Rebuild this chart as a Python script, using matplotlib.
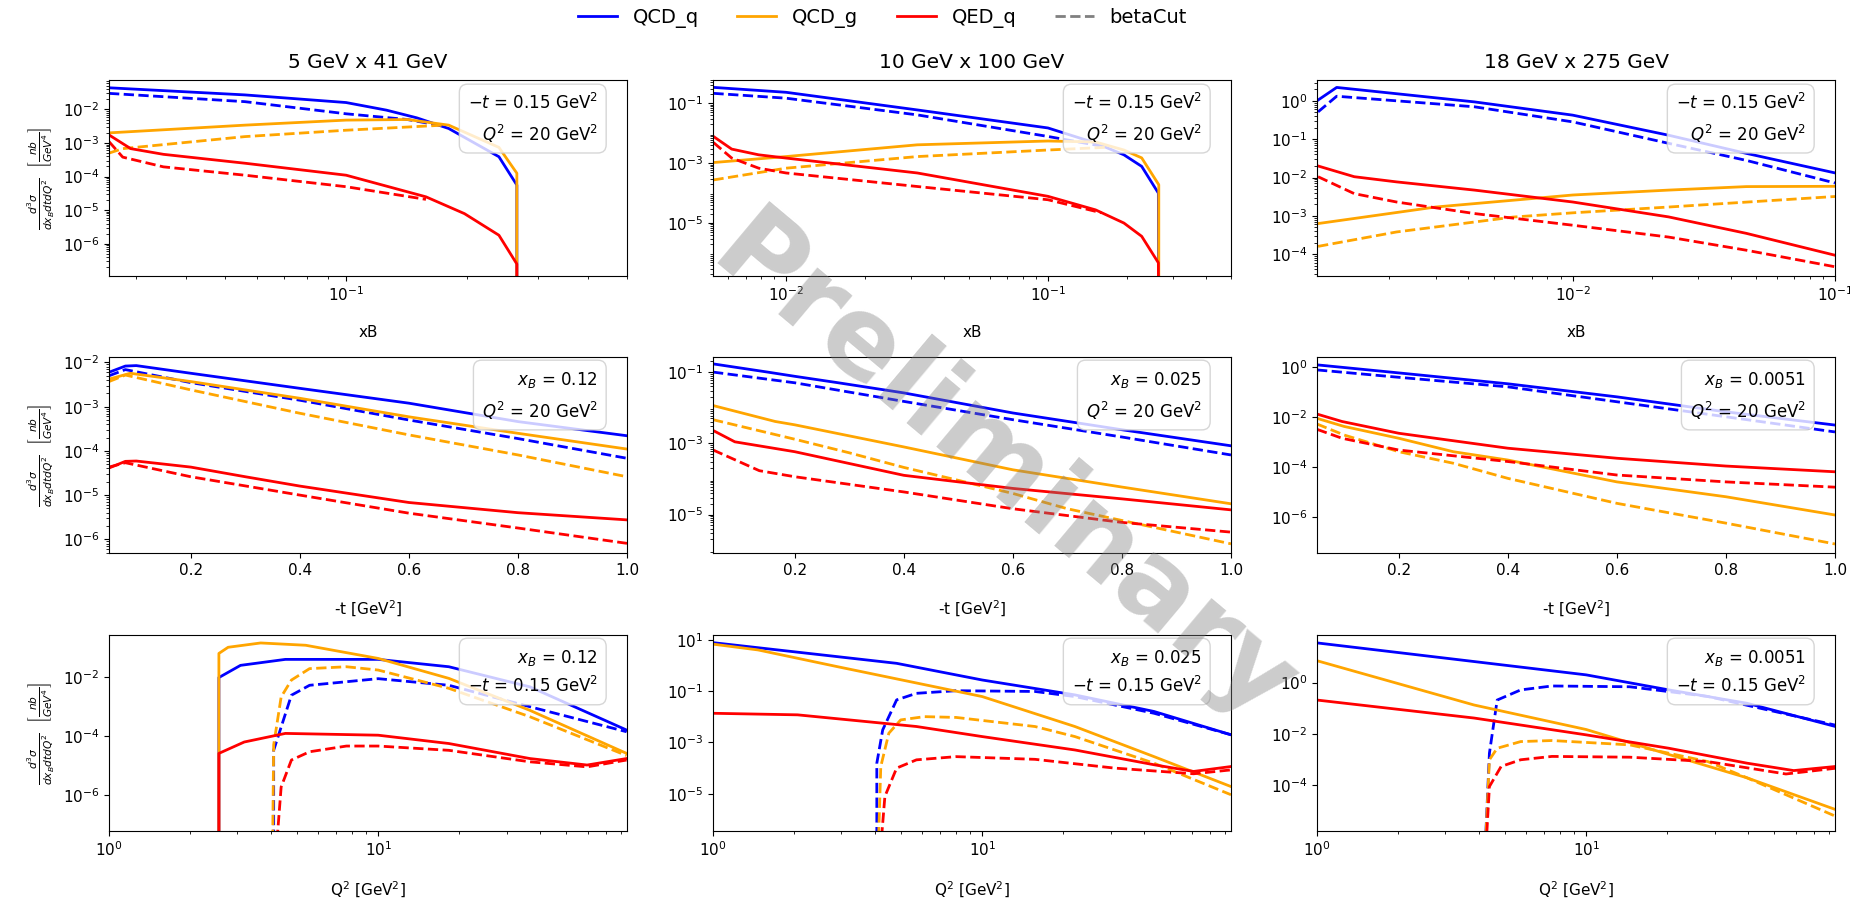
import matplotlib
matplotlib.use("Agg")
import matplotlib.pyplot as plt
from matplotlib.lines import Line2D

# beam configurations (columns)
beams = ["5 GeV x 41 GeV", "10 GeV x 100 GeV", "18 GeV x 275 GeV"]
xb_fixed = [0.12, 0.025, 0.0051]
t_fixed = 0.15
q2_fixed = 20

# ---- xB scans at -t = 0.15, Q2 = 20 ----  (x, dsigma) pairs
xb5_q = [(0.0257, 4.4e-2), (0.056, 2.7e-2), (0.1, 1.6e-2), (0.126, 9.5e-3), (0.15, 5.6e-3),
         (0.18, 2.7e-3), (0.24, 3.9e-4), (0.266, 5.6e-5), (0.266, 1e-9)]
xb5_q_cut = [(0.0257, 3.0e-2), (0.056, 1.7e-2), (0.1, 7.4e-3), (0.142, 5.0e-3), (0.175, 3.2e-3)]
xb5_g = [(0.0257, 2.0e-3), (0.056, 3.4e-3), (0.1, 4.8e-3), (0.142, 5.0e-3), (0.18, 3.4e-3),
         (0.24, 7.4e-4), (0.266, 1.26e-4), (0.266, 1e-9)]
xb5_g_cut = [(0.0257, 5.0e-4), (0.0278, 6.8e-4), (0.056, 1.55e-3), (0.1, 2.4e-3), (0.175, 3.4e-3)]
xb5_e = [(0.0257, 1.74e-3), (0.0291, 6.8e-4), (0.0351, 4.6e-4), (0.056, 2.5e-4), (0.1, 1.1e-4),
         (0.158, 2.5e-5), (0.197, 7.9e-6), (0.24, 1.8e-6), (0.266, 2.5e-7), (0.266, 1e-9)]
xb5_e_cut = [(0.0257, 1.1e-3), (0.0278, 3.8e-4), (0.0351, 1.95e-4), (0.056, 1.1e-4), (0.1, 5.0e-5),
             (0.158, 2.1e-5)]

xb10_q = [(0.00528, 0.34), (0.01, 0.233), (0.0317, 0.060), (0.1, 1.5e-2), (0.152, 4.7e-3),
          (0.195, 1.9e-3), (0.228, 7.8e-4), (0.264, 1.0e-4), (0.265, 1e-9)]
xb10_q_cut = [(0.00528, 0.215), (0.01, 0.148), (0.0317, 0.041), (0.1, 7.8e-3), (0.158, 3.8e-3)]
xb10_g = [(0.00528, 1.05e-3), (0.01, 1.66e-3), (0.0317, 4.1e-3), (0.1, 5.5e-3), (0.152, 5.1e-3),
          (0.195, 2.75e-3), (0.228, 1.5e-3), (0.265, 1.9e-4), (0.265, 1e-9)]
xb10_g_cut = [(0.00528, 2.75e-4), (0.01, 6.8e-4), (0.0317, 1.66e-3), (0.1, 2.75e-3), (0.169, 3.4e-3)]
xb10_e = [(0.00528, 7.8e-3), (0.0062, 2.95e-3), (0.00786, 1.9e-3), (0.01, 1.48e-3), (0.0317, 4.7e-4),
          (0.1, 7.8e-5), (0.152, 2.75e-5), (0.195, 1.0e-5), (0.228, 3.6e-6), (0.264, 4.7e-7),
          (0.265, 1e-9)]
xb10_e_cut = [(0.00528, 4.9e-3), (0.0062, 1.48e-3), (0.00786, 6.8e-4), (0.01, 4.7e-4), (0.0317, 1.66e-4),
              (0.1, 6.0e-5), (0.16, 2.2e-5)]

xb18_q = [(0.00107, 1.05), (0.00126, 2.24), (0.00422, 0.94), (0.01, 0.424), (0.0232, 0.127),
          (0.0459, 0.0427), (0.1, 0.0132)]
xb18_q_cut = [(0.00107, 0.516), (0.00126, 1.32), (0.00422, 0.70), (0.01, 0.283), (0.0232, 0.078),
              (0.0459, 0.028), (0.1, 7.2e-3)]
xb18_g = [(0.00107, 6.3e-4), (0.0030, 1.7e-3), (0.01, 3.5e-3), (0.0232, 4.7e-3), (0.0459, 5.8e-3),
          (0.1, 5.9e-3)]
xb18_g_cut = [(0.00107, 1.6e-4), (0.00213, 3.8e-4), (0.00593, 9.3e-4), (0.01, 1.2e-3), (0.0232, 1.7e-3),
              (0.1, 3.2e-3)]
xb18_e = [(0.00107, 2.0e-2), (0.00147, 1.05e-2), (0.00213, 7.7e-3), (0.00422, 4.7e-3), (0.01, 2.3e-3),
          (0.0232, 9.4e-4), (0.0459, 3.5e-4), (0.1, 9.4e-5)]
xb18_e_cut = [(0.00107, 1.05e-2), (0.00147, 3.8e-3), (0.00213, 2.3e-3), (0.00422, 1.15e-3), (0.01, 5.7e-4),
              (0.0232, 2.8e-4), (0.0459, 1.27e-4), (0.1, 4.7e-5)]

# ---- -t scans at fixed xB, Q2 = 20 ----
t5_q = [(0.05, 6.0e-3), (0.08, 8.3e-3), (0.1, 8.5e-3), (0.2, 5.7e-3), (0.4, 2.6e-3), (0.6, 1.2e-3),
        (0.8, 4.6e-4), (1.0, 2.2e-4)]
t5_q_cut = [(0.05, 5.0e-3), (0.08, 6.9e-3), (0.2, 3.5e-3), (0.4, 1.4e-3), (0.6, 5.0e-4), (0.8, 1.9e-4),
            (1.0, 6.8e-5)]
t5_g = [(0.05, 4.2e-3), (0.089, 5.7e-3), (0.2, 3.7e-3), (0.4, 1.55e-3), (0.6, 5.9e-4), (0.8, 2.5e-4),
        (1.0, 1.1e-4)]
t5_g_cut = [(0.05, 3.7e-3), (0.08, 5.2e-3), (0.2, 2.4e-3), (0.4, 7.1e-4), (0.6, 2.3e-4), (0.8, 8.1e-5),
            (1.0, 2.6e-5)]
t5_e = [(0.05, 4.1e-5), (0.08, 5.8e-5), (0.1, 5.9e-5), (0.2, 4.3e-5), (0.3, 2.6e-5), (0.4, 1.6e-5),
        (0.6, 6.8e-6), (0.8, 4.0e-6), (1.0, 2.75e-6)]
t5_e_cut = [(0.05, 4.3e-5), (0.08, 5.4e-5), (0.2, 2.6e-5), (0.4, 1.0e-5), (0.6, 3.9e-6), (0.8, 1.8e-6),
            (1.0, 8.1e-7)]

t10_q = [(0.05, 0.17), (0.15, 0.10), (0.2, 0.076), (0.28, 0.05), (0.4, 0.026), (0.6, 7.1e-3),
         (0.8, 2.4e-3), (1.0, 8.5e-4)]
t10_q_cut = [(0.05, 0.1), (0.2, 0.05), (0.4, 0.015), (0.6, 4.6e-3), (0.8, 1.5e-3), (1.0, 4.7e-4)]
t10_g = [(0.05, 1.15e-2), (0.164, 4.1e-3), (0.2, 3.3e-3), (0.4, 7.9e-4), (0.6, 1.8e-4), (0.8, 5.9e-5),
         (1.0, 2.0e-5)]
t10_g_cut = [(0.05, 4.6e-3), (0.2, 1.3e-3), (0.3, 5.4e-4), (0.4, 2.1e-4), (0.5, 9.1e-5), (0.6, 3.9e-5),
             (0.7, 1.45e-5), (0.8, 6.8e-6), (1.0, 1.5e-6)]
t10_e = [(0.05, 2.3e-3), (0.09, 1.1e-3), (0.2, 5.8e-4), (0.4, 1.26e-4), (0.6, 5.4e-5), (0.8, 2.75e-5),
         (1.0, 1.35e-5)]
t10_e_cut = [(0.05, 6.5e-4), (0.135, 1.7e-4), (0.2, 1.15e-4), (0.4, 4.3e-5), (0.6, 1.45e-5),
             (0.8, 6.0e-6), (1.0, 3.2e-6)]

t18_q = [(0.05, 1.26), (0.2, 0.6), (0.4, 0.22), (0.6, 0.066), (0.8, 0.0166), (1.0, 4.9e-3)]
t18_q_cut = [(0.05, 0.79), (0.2, 0.4), (0.4, 0.166), (0.6, 0.042), (0.8, 0.0105), (1.0, 2.6e-3)]
t18_g = [(0.05, 9.1e-3), (0.1, 4.3e-3), (0.2, 1.45e-3), (0.3, 4.2e-4), (0.4, 1.95e-4), (0.6, 2.6e-5),
         (0.8, 6.6e-6), (1.0, 1.23e-6)]
t18_g_cut = [(0.05, 5.4e-3), (0.1, 1.95e-3), (0.2, 4.2e-4), (0.3, 1.45e-4), (0.4, 3.6e-5), (0.6, 3.6e-6),
             (0.8, 5.8e-7), (1.0, 8.5e-8)]
t18_e = [(0.05, 1.35e-2), (0.096, 6.8e-3), (0.2, 2.3e-3), (0.4, 5.8e-4), (0.6, 2.3e-4), (0.8, 1.12e-4),
         (1.0, 6.6e-5)]
t18_e_cut = [(0.05, 3.3e-3), (0.096, 1.45e-3), (0.2, 4.9e-4), (0.4, 1.7e-4), (0.6, 4.9e-5), (0.8, 2.6e-5),
             (1.0, 1.6e-5)]

# ---- Q2 scans at fixed xB, -t = 0.15 ----
q5_q = [(2.56, 1e-9), (2.56, 9.5e-3), (3.08, 2.45e-2), (4.52, 3.9e-2), (10, 3.9e-2), (18.3, 2.2e-2),
        (36.6, 4.6e-3), (83.7, 1.6e-4)]
q5_q_cut = [(4.09, 1e-9), (4.09, 3.3e-5), (4.76, 2.4e-3), (5.56, 5.2e-3), (10, 8.7e-3), (18.3, 5.2e-3),
            (36.6, 9.8e-4), (83.7, 1.4e-4)]
q5_g = [(2.56, 1e-9), (2.56, 6.2e-2), (2.77, 0.10), (3.66, 0.14), (5.38, 0.117), (10, 4.2e-2),
        (18.3, 8.9e-3), (36.6, 7.4e-4), (83.7, 2.6e-5)]
q5_g_cut = [(4.04, 1e-9), (4.09, 5e-5), (4.36, 2.1e-3), (4.76, 7.8e-3), (5.56, 1.9e-2), (7.62, 2.2e-2),
            (10, 1.7e-2), (18.3, 4.1e-3), (36.6, 4.5e-4), (83.7, 2.2e-5)]
q5_e = [(2.56, 1e-9), (2.56, 2.6e-5), (3.18, 6.3e-5), (4.52, 1.23e-4), (10, 1.07e-4), (18.3, 5.6e-5),
        (36.6, 1.74e-5), (59.7, 1.05e-5), (83.7, 1.74e-5)]
q5_e_cut = [(4.09, 1e-9), (4.36, 1.9e-6), (4.76, 1.55e-5), (5.56, 2.95e-5), (7.62, 4.6e-5), (10, 4.6e-5),
            (18.3, 3.3e-5), (36.6, 1.35e-5), (59.7, 9.1e-6), (83.7, 1.55e-5)]

q10_q = [(1, 7.9), (2.9, 2.24), (4.81, 1.23), (10, 0.275), (22.1, 0.072), (43.5, 0.0162), (84, 2.0e-3)]
q10_q_cut = [(4.06, 1e-9), (4.06, 1.55e-4), (4.27, 3.1e-3), (4.81, 4.6e-2), (5.7, 8.3e-2), (8.0, 0.105),
             (15.7, 9.8e-2), (22.1, 6.2e-2), (43.5, 1.38e-2), (84, 2.0e-3)]
q10_g = [(1, 6.9), (1.47, 4.1), (2.9, 0.91), (10, 6.2e-2), (22.1, 4.2e-3), (43.5, 2.8e-4), (84, 1.9e-5)]
q10_g_cut = [(4.06, 1e-9), (4.2, 1.15e-4), (4.5, 2.3e-3), (4.98, 7.6e-3), (6.1, 1.02e-2), (8.0, 9.5e-3),
             (15.7, 4.2e-3), (22.1, 1.7e-3), (43.5, 1.55e-4), (84, 9.1e-6)]
q10_e = [(1, 1.38e-2), (2.06, 1.2e-2), (5.7, 4.2e-3), (10, 1.7e-3), (22.1, 5.1e-4), (43.5, 1.35e-4),
         (61, 7.4e-5), (84, 1.15e-4)]
q10_e_cut = [(4.06, 1e-9), (4.35, 7.8e-6), (4.81, 1.0e-4), (5.7, 2.1e-4), (8.0, 2.8e-4), (15.7, 2.2e-4),
             (31, 1.0e-4), (61, 6.0e-5), (84, 8.5e-5)]

q18_q = [(1, 35), (3.83, 6.6), (10, 2.0), (20.3, 0.52), (39.5, 0.158), (84.6, 1.95e-2)]
q18_q_cut = [(4.11, 1e-9), (4.37, 1.8e-3), (4.67, 0.21), (5.71, 0.52), (7.46, 0.74), (14.5, 0.69),
             (28.3, 0.29), (84.6, 2.2e-2)]
q18_g = [(1, 7.1), (3.83, 0.135), (10, 1.5e-2), (20.3, 1.6e-3), (39.5, 2.0e-4), (84.6, 1.15e-5)]
q18_g_cut = [(4.11, 1e-9), (4.37, 1.0e-3), (4.67, 2.8e-3), (5.71, 5.1e-3), (7.46, 5.6e-3), (14.5, 3.8e-3),
             (28.3, 8.5e-4), (39.5, 2.0e-4), (84.6, 6.3e-6)]
q18_e = [(1, 0.21), (3.83, 4.2e-2), (10, 9.3e-3), (20.3, 2.8e-3), (39.5, 7.4e-4), (59, 3.8e-4),
         (84.6, 5.5e-4)]
q18_e_cut = [(4.11, 1e-9), (4.37, 9.1e-5), (4.83, 5.5e-4), (5.71, 1.0e-3), (7.46, 1.35e-3), (14.5, 1.26e-3),
             (28.3, 8.5e-4), (55.2, 2.8e-4), (84.6, 4.7e-4)]

panels = [
    [(xb5_q, xb5_q_cut, xb5_g, xb5_g_cut, xb5_e, xb5_e_cut),
     (xb10_q, xb10_q_cut, xb10_g, xb10_g_cut, xb10_e, xb10_e_cut),
     (xb18_q, xb18_q_cut, xb18_g, xb18_g_cut, xb18_e, xb18_e_cut)],
    [(t5_q, t5_q_cut, t5_g, t5_g_cut, t5_e, t5_e_cut),
     (t10_q, t10_q_cut, t10_g, t10_g_cut, t10_e, t10_e_cut),
     (t18_q, t18_q_cut, t18_g, t18_g_cut, t18_e, t18_e_cut)],
    [(q5_q, q5_q_cut, q5_g, q5_g_cut, q5_e, q5_e_cut),
     (q10_q, q10_q_cut, q10_g, q10_g_cut, q10_e, q10_e_cut),
     (q18_q, q18_q_cut, q18_g, q18_g_cut, q18_e, q18_e_cut)],
]

xlims = [[(0.0257, 0.5), (0.00526, 0.5), (0.00106, 0.1)],
         [(0.05, 1.0)] * 3,
         [(1, 84)] * 3]
ylims = [[(1.1e-7, 0.075), (1.7e-7, 0.6), (2.7e-5, 3.5)],
         [(4.9e-7, 0.0133), (8.3e-7, 0.265), (3.7e-8, 2.6)],
         [(6.2e-8, 0.26), (3.5e-7, 15.7), (1.7e-6, 71)]]
# labelled decades on each y axis (exponents)
ydecades = [[[-2, -3, -4, -5, -6], [-1, -3, -5], [0, -1, -2, -3, -4]],
            [[-2, -3, -4, -5, -6], [-1, -3, -5], [0, -2, -4, -6]],
            [[-2, -4, -6], [1, -1, -3, -5], [0, -2, -4]]]
xlabels = ["xB", "-t [GeV$^2$]", "Q$^2$ [GeV$^2$]"]
ylabel = r"$\frac{d^3\sigma}{dx_B dt dQ^2}$  $\left[\frac{nb}{GeV^4}\right]$"

styles = [("blue", "-"), ("blue", "--"), ("orange", "-"), ("orange", "--"), ("red", "-"), ("red", "--")]

fig = plt.figure(figsize=(18.5, 9.05), dpi=100)
W, H = 1850, 905
col_left = [109, 713, 1317]
col_width = 518
row_top = [80, 357, 635]
ax_h = 196

for r in range(3):
    for c in range(3):
        ax = fig.add_axes([col_left[c] / W, 1 - (row_top[r] + ax_h) / H, col_width / W, ax_h / H])
        for pts, (col, ls) in zip(panels[r][c], styles):
            x, y = zip(*pts)
            ax.plot(x, y, color=col, ls=ls, lw=2)
        ax.set_yscale("log")
        if r != 1:
            ax.set_xscale("log")
        ax.set_xlim(*xlims[r][c])
        ax.set_ylim(*ylims[r][c])
        ax.set_yticks([10.0 ** k for k in ydecades[r][c]])
        ax.set_ylim(*ylims[r][c])
        ax.tick_params(labelsize=11)
        ax.set_xlabel(xlabels[r], labelpad=15, fontsize=11)
        if c == 0:
            ax.set_ylabel(ylabel, fontsize=11)
        if r == 0:
            ax.set_title(beams[c], fontsize=14.5, pad=9)
            txt = f"$-t$ = {t_fixed} GeV$^2$\n$Q^2$ = {q2_fixed} GeV$^2$"
        elif r == 1:
            txt = f"$x_B$ = {xb_fixed[c]}\n$Q^2$ = {q2_fixed} GeV$^2$"
        else:
            txt = f"$x_B$ = {xb_fixed[c]}\n$-t$ = {t_fixed} GeV$^2$"
        ax.annotate(txt, xy=(1, 1), xycoords="axes fraction", xytext=(-21, -9),
                    textcoords="offset points", ha="right", va="top", fontsize=12,
                    linespacing=1.55,
                    bbox=dict(boxstyle="round,pad=0.5", fc="white", ec="0.8", alpha=0.8))

handles = [Line2D([], [], color="blue", lw=2), Line2D([], [], color="orange", lw=2),
           Line2D([], [], color="red", lw=2), Line2D([], [], color="gray", ls="--", lw=2)]
fig.legend(handles, ["QCD_q", "QCD_g", "QED_q", "betaCut"], loc="center", ncol=4,
           bbox_to_anchor=(0.477, 0.98), frameon=False, fontsize=14)

fig.text(0.542, 0.478, "Preliminary", rotation=-40, fontsize=80, fontweight="bold",
         color="gray", alpha=0.4, ha="center", va="center", zorder=10)

fig.savefig("out.png", dpi=100)
